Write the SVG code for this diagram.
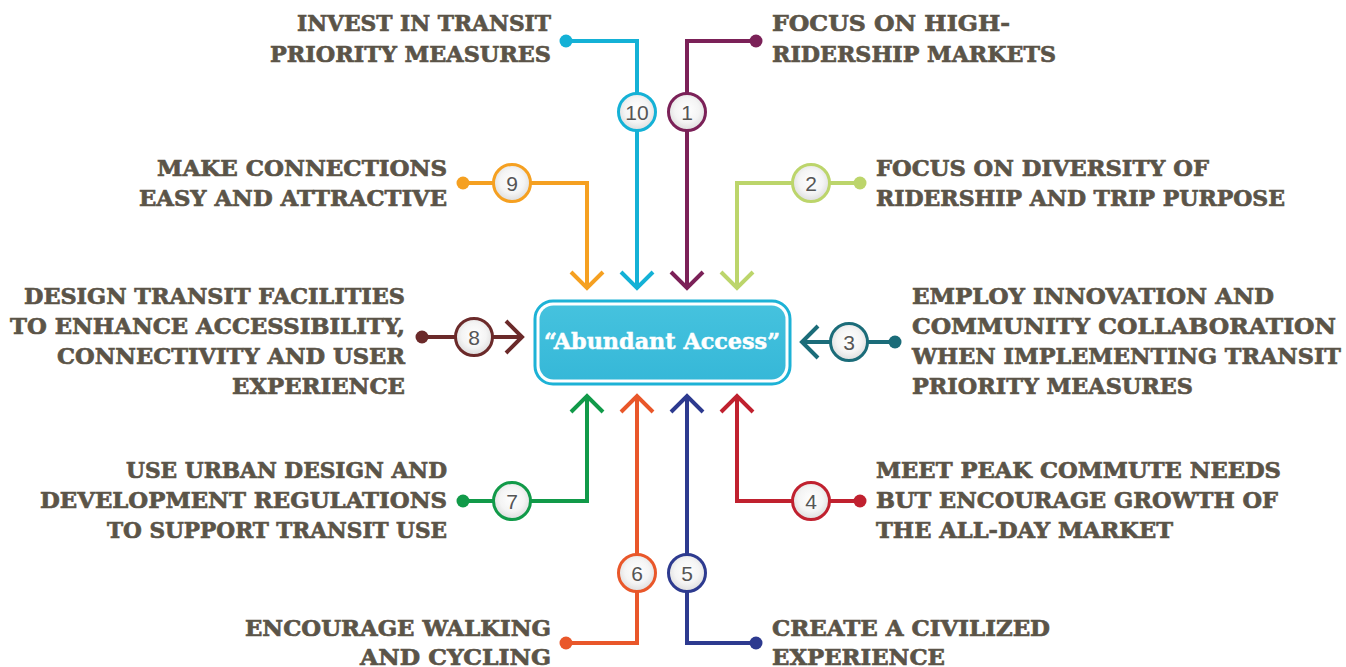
<svg xmlns="http://www.w3.org/2000/svg" width="1346" height="667" viewBox="0 0 1346 667">
<defs>
<radialGradient id="cg" cx="50%" cy="45%" r="55%">
<stop offset="0" stop-color="#ffffff"/>
<stop offset="0.6" stop-color="#f4f4f4"/>
<stop offset="1" stop-color="#dcdcdc"/>
</radialGradient>
<linearGradient id="bg" x1="0" y1="0" x2="0" y2="1">
<stop offset="0" stop-color="#45c2de"/>
<stop offset="1" stop-color="#36b8d8"/>
</linearGradient>
</defs>
<style>
.t{font-family:"DejaVu Serif","Liberation Serif",serif;font-weight:bold;font-size:23px;fill:#5b5448;stroke:#5b5448;stroke-width:0.7px}
.r{text-anchor:end}
.n{font-family:"Liberation Sans","Open Sans",sans-serif;font-size:21px;fill:#555;text-anchor:middle}
.ln{fill:none;stroke-width:4;stroke-linejoin:miter}
.nc{fill:url(#cg);stroke-width:3}
</style>
<rect width="1346" height="667" fill="#ffffff"/>
<g id="connectors">
<path class="ln" stroke="#14b1d6" d="M566 41 H637 V286 M621 272 L637 288 L653 272"/>
<circle cx="566" cy="41" r="6.5" fill="#14b1d6"/>
<path class="ln" stroke="#7b2158" d="M756 41 H687 V286 M671 272 L687 288 L703 272"/>
<circle cx="756" cy="41" r="6.5" fill="#7b2158"/>
<path class="ln" stroke="#f5a021" d="M463 183 H587 V286 M571 272 L587 288 L603 272"/>
<circle cx="463" cy="183" r="6.5" fill="#f5a021"/>
<path class="ln" stroke="#bcd56b" d="M860 183 H737 V286 M721 272 L737 288 L753 272"/>
<circle cx="860" cy="183" r="6.5" fill="#bcd56b"/>
<path class="ln" stroke="#6b2a2a" d="M422 337 H520 M506 321 L522 337 L506 353"/>
<circle cx="422" cy="337" r="6.5" fill="#6b2a2a"/>
<path class="ln" stroke="#1b6c79" d="M895 342 H804 M818 326 L802 342 L818 358"/>
<circle cx="895" cy="342" r="6.5" fill="#1b6c79"/>
<path class="ln" stroke="#119a49" d="M463 501 H587 V398 M571 412 L587 396 L603 412"/>
<circle cx="463" cy="501" r="6.5" fill="#119a49"/>
<path class="ln" stroke="#e9572a" d="M566 643 H637 V398 M621 412 L637 396 L653 412"/>
<circle cx="566" cy="643" r="6.5" fill="#e9572a"/>
<path class="ln" stroke="#2d3a8f" d="M756 643 H687 V398 M671 412 L687 396 L703 412"/>
<circle cx="756" cy="643" r="6.5" fill="#2d3a8f"/>
<path class="ln" stroke="#c0212f" d="M860 501 H737 V398 M721 412 L737 396 L753 412"/>
<circle cx="860" cy="501" r="6.5" fill="#c0212f"/>
</g>
<g id="center">
<rect x="535" y="301" width="255" height="83" rx="18" fill="#ffffff" stroke="#1db2d6" stroke-width="3"/>
<rect x="539.5" y="305.5" width="246" height="74" rx="14" fill="url(#bg)"/>
<text x="662" y="349" font-family="DejaVu Serif,Liberation Serif,serif" font-weight="bold" font-size="22" fill="#ffffff" stroke="#ffffff" stroke-width="0.5" text-anchor="middle" textLength="236" lengthAdjust="spacingAndGlyphs">“Abundant Access”</text>
</g>
<g id="n10"><circle class="nc" stroke="#14b1d6" cx="637" cy="112" r="18.5"/><text class="n" x="637" y="119.5">10</text>
<text class="t r" x="551" y="31" textLength="254" lengthAdjust="spacingAndGlyphs">INVEST IN TRANSIT</text>
<text class="t r" x="551" y="62" textLength="281" lengthAdjust="spacingAndGlyphs">PRIORITY MEASURES</text></g>
<g id="n1"><circle class="nc" stroke="#7b2158" cx="687" cy="112" r="18.5"/><text class="n" x="687" y="119.5">1</text>
<text class="t" x="772" y="31" textLength="238" lengthAdjust="spacingAndGlyphs">FOCUS ON HIGH-</text>
<text class="t" x="772" y="62" textLength="284" lengthAdjust="spacingAndGlyphs">RIDERSHIP MARKETS</text></g>
<g id="n9"><circle class="nc" stroke="#f5a021" cx="512" cy="183" r="18.5"/><text class="n" x="512" y="190.5">9</text>
<text class="t r" x="447" y="176" textLength="290" lengthAdjust="spacingAndGlyphs">MAKE CONNECTIONS</text>
<text class="t r" x="447" y="206" textLength="308" lengthAdjust="spacingAndGlyphs">EASY AND ATTRACTIVE</text></g>
<g id="n2"><circle class="nc" stroke="#bcd56b" cx="811" cy="183" r="18.5"/><text class="n" x="811" y="190.5">2</text>
<text class="t" x="876" y="176" textLength="333" lengthAdjust="spacingAndGlyphs">FOCUS ON DIVERSITY OF</text>
<text class="t" x="876" y="206" textLength="409" lengthAdjust="spacingAndGlyphs">RIDERSHIP AND TRIP PURPOSE</text></g>
<g id="n8"><circle class="nc" stroke="#6b2a2a" cx="474" cy="337" r="18.5"/><text class="n" x="474" y="344.5">8</text>
<text class="t r" x="405" y="304" textLength="381" lengthAdjust="spacingAndGlyphs">DESIGN TRANSIT FACILITIES</text>
<text class="t r" x="405" y="334" textLength="395" lengthAdjust="spacingAndGlyphs">TO ENHANCE ACCESSIBILITY,</text>
<text class="t r" x="405" y="364" textLength="348" lengthAdjust="spacingAndGlyphs">CONNECTIVITY AND USER</text>
<text class="t r" x="405" y="394" textLength="173" lengthAdjust="spacingAndGlyphs">EXPERIENCE</text></g>
<g id="n3"><circle class="nc" stroke="#1b6c79" cx="849" cy="342" r="18.5"/><text class="n" x="849" y="349.5">3</text>
<text class="t" x="912" y="304" textLength="362" lengthAdjust="spacingAndGlyphs">EMPLOY INNOVATION AND</text>
<text class="t" x="912" y="334" textLength="424" lengthAdjust="spacingAndGlyphs">COMMUNITY COLLABORATION</text>
<text class="t" x="912" y="364" textLength="429" lengthAdjust="spacingAndGlyphs">WHEN IMPLEMENTING TRANSIT</text>
<text class="t" x="912" y="394" textLength="281" lengthAdjust="spacingAndGlyphs">PRIORITY MEASURES</text></g>
<g id="n7"><circle class="nc" stroke="#119a49" cx="512" cy="501" r="18.5"/><text class="n" x="512" y="508.5">7</text>
<text class="t r" x="447" y="478" textLength="321" lengthAdjust="spacingAndGlyphs">USE URBAN DESIGN AND</text>
<text class="t r" x="447" y="508" textLength="407" lengthAdjust="spacingAndGlyphs">DEVELOPMENT REGULATIONS</text>
<text class="t r" x="447" y="538" textLength="340" lengthAdjust="spacingAndGlyphs">TO SUPPORT TRANSIT USE</text></g>
<g id="n4"><circle class="nc" stroke="#c0212f" cx="811" cy="501" r="18.5"/><text class="n" x="811" y="508.5">4</text>
<text class="t" x="876" y="478" textLength="405" lengthAdjust="spacingAndGlyphs">MEET PEAK COMMUTE NEEDS</text>
<text class="t" x="876" y="508" textLength="402" lengthAdjust="spacingAndGlyphs">BUT ENCOURAGE GROWTH OF</text>
<text class="t" x="876" y="538" textLength="297" lengthAdjust="spacingAndGlyphs">THE ALL-DAY MARKET</text></g>
<g id="n6"><circle class="nc" stroke="#e9572a" cx="637" cy="573" r="18.5"/><text class="n" x="637" y="580.5">6</text>
<text class="t r" x="551" y="636" textLength="306" lengthAdjust="spacingAndGlyphs">ENCOURAGE WALKING</text>
<text class="t r" x="551" y="665" textLength="191" lengthAdjust="spacingAndGlyphs">AND CYCLING</text></g>
<g id="n5"><circle class="nc" stroke="#2d3a8f" cx="687" cy="573" r="18.5"/><text class="n" x="687" y="580.5">5</text>
<text class="t" x="772" y="636" textLength="278" lengthAdjust="spacingAndGlyphs">CREATE A CIVILIZED</text>
<text class="t" x="772" y="665" textLength="173" lengthAdjust="spacingAndGlyphs">EXPERIENCE</text></g>
</svg>
